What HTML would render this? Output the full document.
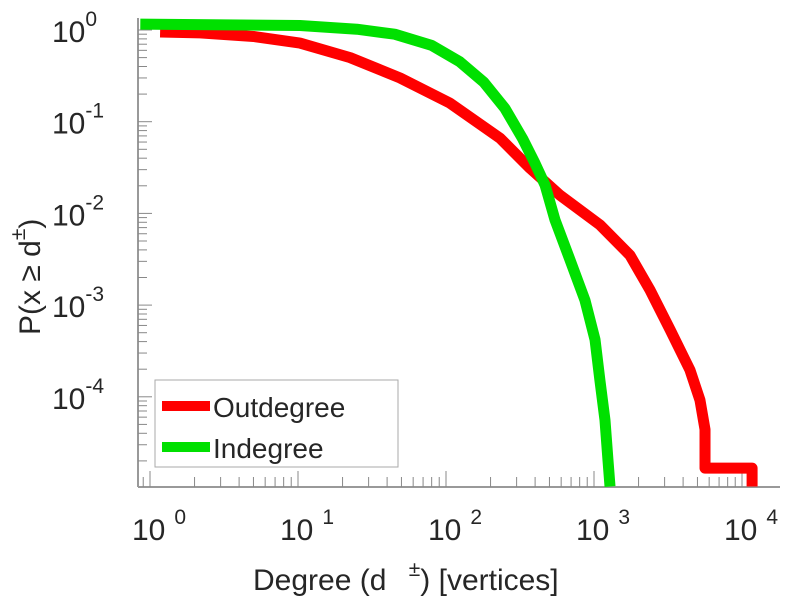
<!DOCTYPE html>
<html><head><meta charset="utf-8"><style>
body{margin:0;background:#fff;width:785px;height:600px;overflow:hidden;font-family:"Liberation Sans",sans-serif}
svg text{font-family:"Liberation Sans",sans-serif;fill:#262626}
</style></head><body>
<svg id="c" width="785" height="600"></svg>
<script>
const redD=[1.17,2.18,5,10.3,22.5,48.9,106,232,370,589,1097,1750,2390,3265,4450,5200,5625,5625,11700,11700];
const redP=[0.95,0.93,0.85,0.72,0.5,0.3,0.16,0.066,0.031,0.0158,0.0075,0.0035,0.00146,0.00054,0.000196,9.2e-5,4.4e-5,1.67e-5,1.67e-5,1.05e-5];
const greenD=[0.86,10.3,25,45,80,124,180,250,330,400,467,545,689,869,1016,1097,1186,1244,1283];
const greenP=[1.16,1.12,1.02,0.9,0.68,0.45,0.27,0.14,0.065,0.035,0.0204,0.0085,0.0031,0.00113,4.2e-4,1.5e-4,5.6e-5,2.0e-5,1.05e-5];
const xTickExp=[0,1,2,3,4];
const yTickExp=[0,-1,-2,-3,-4];
const NS='http://www.w3.org/2000/svg';
const svg=document.getElementById('c');
const X=d=>150+148*Math.log10(d);
const Y=p=>30-91.7*Math.log10(p);
const L=138,R=780,T=18,B=487;
function mk(t,a,p){const e=document.createElementNS(NS,t);for(const k in a)e.setAttribute(k,a[k]);(p||svg).appendChild(e);return e;}
const ax=mk('g',{});


mk('line',{x1:L,y1:T,x2:L,y2:B,stroke:'#999','stroke-width':2},ax);
mk('line',{x1:L,y1:B,x2:R,y2:B,stroke:'#999','stroke-width':2},ax);
for(let e=0;e>=-5;e--){for(let m=1;m<10;m++){const y=Y(m*Math.pow(10,e));if(y<T||y>B)continue;mk('line',{x1:L,y1:y,x2:L+(m==1?14:9),y2:y,stroke:'#888','stroke-width':1},ax);}}
for(let e=-1;e<=4;e++){for(let m=1;m<10;m++){const x=X(m*Math.pow(10,e));if(x<L||x>R)continue;mk('line',{x1:x,y1:B,x2:x,y2:B-(m==1?16:10),stroke:'#888','stroke-width':1},ax);}}
yTickExp.forEach(e=>{const t=mk('text',{x:52,y:Y(Math.pow(10,e))+12,'font-size':30});t.innerHTML='10<tspan dy="-16" font-size="21">'+e+'</tspan>';});
xTickExp.forEach(e=>{const t=mk('text',{x:X(Math.pow(10,e))-18,y:540,'font-size':30});t.innerHTML='10<tspan dx="9" dy="-16" font-size="21">'+e+'</tspan>';});
function line(D,P,col,name){const pts=D.map((d,i)=>X(d)+','+Y(P[i])).join(' ');const p=mk('polyline',{points:pts,fill:'none',stroke:col,'stroke-width':11,'stroke-linejoin':'round'});}
line(redD,redP,'#ff0000','outdegree-line');
line(greenD,greenP,'#00e000','indegree-line');
const lg=mk('g',{});


mk('rect',{x:155,y:380,width:243,height:87,fill:'#fff',stroke:'#aaa','stroke-width':1},lg);
mk('line',{x1:162,y1:406,x2:210,y2:406,stroke:'#ff0000','stroke-width':10},lg);
mk('line',{x1:162,y1:447,x2:210,y2:447,stroke:'#00e000','stroke-width':10},lg);
const t1=mk('text',{x:213,y:417,'font-size':28},lg);t1.textContent='Outdegree';

const t2=mk('text',{x:213,y:458,'font-size':28},lg);t2.textContent='Indegree';

const xt=mk('text',{x:253,y:590,'font-size':30});xt.innerHTML='Degree (d <tspan dx="14" dy="-14" font-size="21">±</tspan><tspan dy="14">) [vertices]</tspan>';

const yt=mk('text',{x:0,y:0,'font-size':30,transform:'translate(40,335) rotate(-90)'});yt.innerHTML='P(x ≥ d<tspan dy="-15" font-size="21">±</tspan><tspan dy="15">)</tspan>';

</script>
</body></html>
